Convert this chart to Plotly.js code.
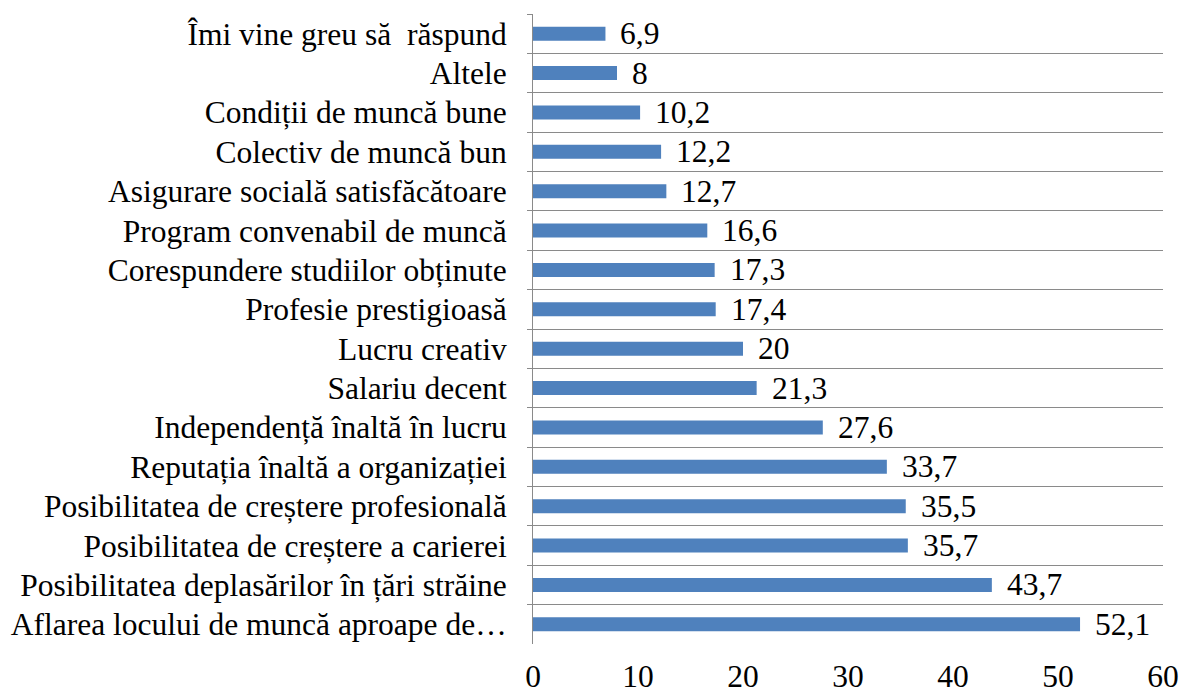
<!DOCTYPE html>
<html><head><meta charset="utf-8">
<script src="https://cdn.plot.ly/plotly-3.0.1.min.js"></script>
<style>html,body{margin:0;padding:0;background:#fff}</style>
</head><body>
<div id="chart" style="width:1183px;height:693px"></div>
<script>
const categories = [
  "Îmi vine greu să\u00a0 răspund",
  "Altele",
  "Condiții de muncă bune",
  "Colectiv de muncă bun",
  "Asigurare socială satisfăcătoare",
  "Program convenabil de muncă",
  "Corespundere studiilor obținute",
  "Profesie prestigioasă",
  "Lucru creativ",
  "Salariu decent",
  "Independență înaltă în lucru",
  "Reputația înaltă a organizației",
  "Posibilitatea de creștere profesională",
  "Posibilitatea de creștere a carierei",
  "Posibilitatea deplasărilor în țări străine",
  "Aflarea locului de muncă aproape de…"
];
const values = [6.9, 8, 10.2, 12.2, 12.7, 16.6, 17.3, 17.4, 20, 21.3, 27.6, 33.7, 35.5, 35.7, 43.7, 52.1];
const valueLabels = values.map(v => String(v).replace('.', ','));
const xTicks = [0, 10, 20, 30, 40, 50, 60];

const font = {family: '"Liberation Serif", "Times New Roman", serif', size: 31.5, color: '#000'};

const trace = {
  type: 'bar', orientation: 'h',
  x: values, y: categories,
  marker: {color: '#4F81BD'},
  hoverinfo: 'none'
};

const annotations = values.map((v, i) => ({
  x: v, y: categories[i], xref: 'x', yref: 'y',
  text: valueLabels[i], showarrow: false,
  xanchor: 'left', yanchor: 'middle', xshift: 13, yshift: 0,
  font: font
}));

const layout = {
  width: 1183, height: 693,
  margin: {l: 533, r: 20, t: 14, b: 49, pad: 0},
  paper_bgcolor: '#fff', plot_bgcolor: '#fff',
  font: font,
  showlegend: false,
  bargap: 0.645,
  xaxis: {
    range: [0, 60], tickvals: xTicks, ticktext: xTicks.map(String),
    showgrid: false, zeroline: false, showline: false,
    ticks: '', ticklabelstandoff: 10, tickfont: font, fixedrange: true
  },
  yaxis: {
    type: 'category', autorange: 'reversed',
    tickson: 'boundaries', showgrid: true, gridcolor: '#8a8a8a', gridwidth: 1,
    showline: true, linecolor: '#8a8a8a', linewidth: 1,
    ticks: 'outside', ticklen: 5, tickcolor: '#8a8a8a',
    ticklabelstandoff: 19, tickfont: font, fixedrange: true
  },
  annotations: annotations
};

Plotly.newPlot('chart', [trace], layout, {displayModeBar: false, staticPlot: true});
</script>
</body></html>
